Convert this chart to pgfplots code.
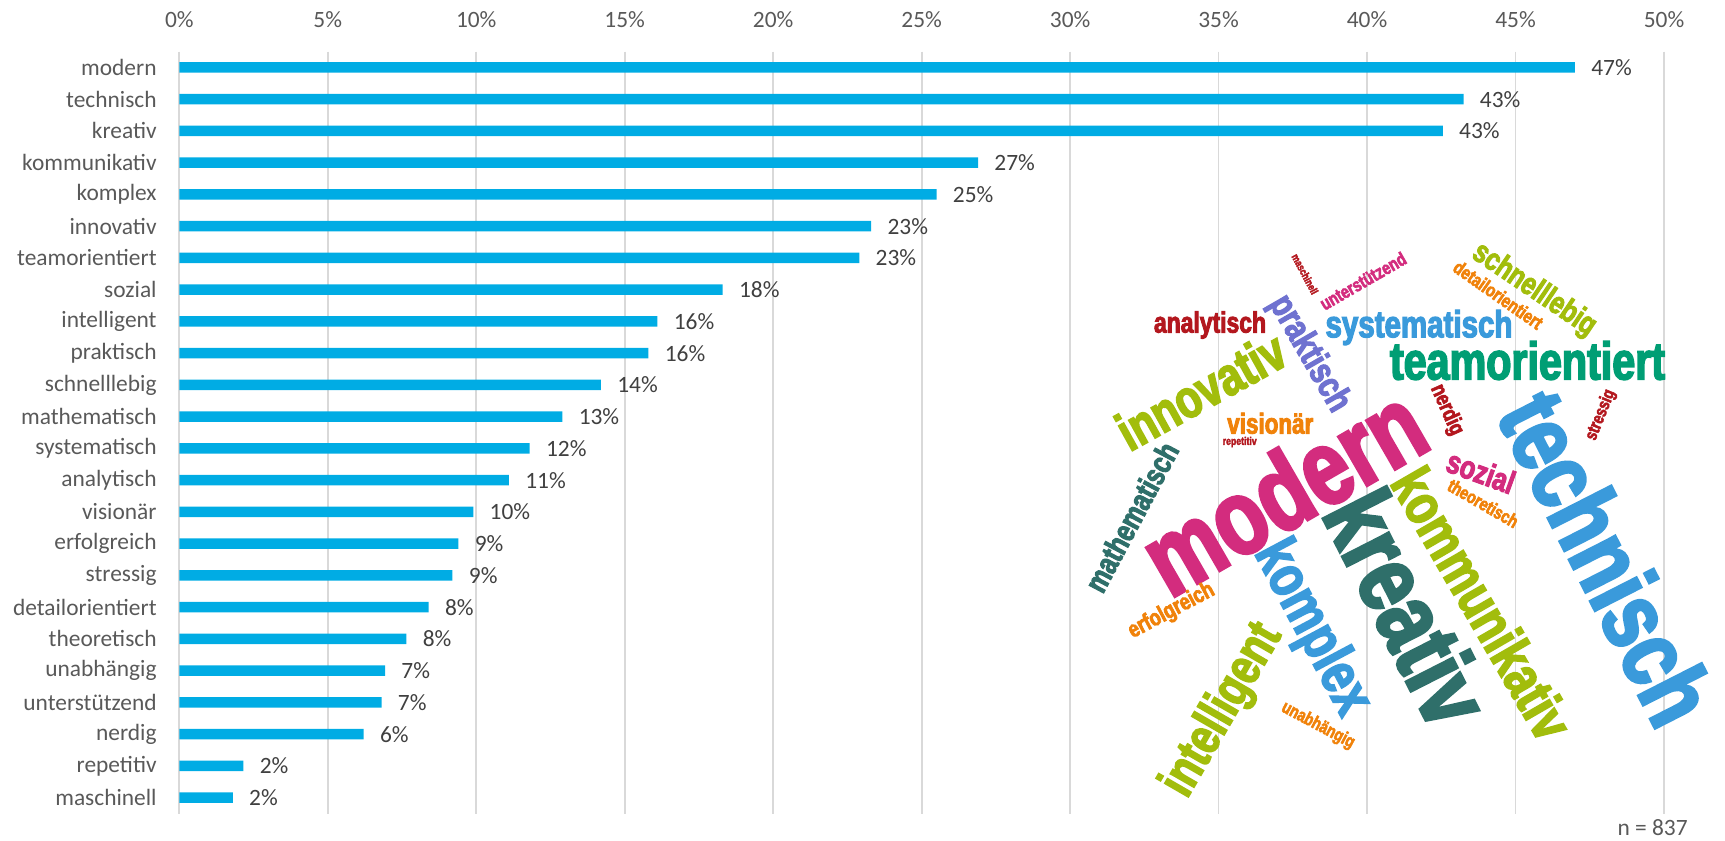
\documentclass[border=0pt]{standalone}
\usepackage{pgfplots}
\usepackage{pgfplotstable}
\pgfplotsset{compat=1.18}
\usepackage{fontspec}
\setmainfont{Carlito}
\newfontfamily\wc{Liberation Sans}[FakeStretch=0.78,FakeBold=3]
\definecolor{barblue}{HTML}{00ACE4}
\definecolor{gridc}{HTML}{D9D9D9}
\definecolor{labc}{HTML}{595959}
\definecolor{datc}{HTML}{404040}
\definecolor{wmag}{HTML}{D32C7E}
\definecolor{wblue}{HTML}{3A9ADB}
\definecolor{wteal}{HTML}{2F6F6A}
\definecolor{wgreen}{HTML}{A2BD0C}
\definecolor{wtg}{HTML}{009E74}
\definecolor{wpur}{HTML}{6F72D0}
\definecolor{wred}{HTML}{B3171E}
\definecolor{worg}{HTML}{F0820A}
\newcommand{\lf}{\fontsize{11.7}{14}\selectfont}
% word: x, y (px), angle, length (pt), colour, text
\newcommand{\cloudword}[6]{\node[rotate=#3,inner sep=0pt,text=#5] at (#1,#2) {\resizebox{#4pt}{!}{\wc\bfseries #6}};}
\pgfplotstableread{
y x lab
0 47.0 47
1 43.25 43
2 42.55 43
3 26.9 27
4 25.5 25
5 23.3 23
6 22.9 23
7 18.3 18
8 16.1 16
9 15.8 16
10 14.2 14
11 12.9 13
12 11.8 12
13 11.1 11
14 9.9 10
15 9.4 9
16 9.2 9
17 8.4 8
18 7.65 8
19 6.93 7
20 6.81 7
21 6.21 6
22 2.16 2
23 1.80 2
}\data
\begin{document}
\begin{tikzpicture}
\path[use as bounding box] (0,0) rectangle (862.5pt,-420.5pt);
\begin{axis}[
  at={(89.65pt,-25.75pt)}, anchor=north west,
  width=742.35pt, height=381pt, scale only axis,
  xbar, bar width=5.35pt,
  xmin=0, xmax=50, ymin=-0.5, ymax=23.5, y dir=reverse,
  axis line style={draw=none},
  major tick length=0pt,
  xtick={0,5,...,50},
  xticklabels={0\%,5\%,10\%,15\%,20\%,25\%,30\%,35\%,40\%,45\%,50\%},
  xticklabel pos=upper,
  xticklabel style={font=\lf, text=labc, inner sep=0pt, anchor=south, yshift=11.7pt},
  ytick={0,...,23},
  yticklabels={modern,technisch,kreativ,kommunikativ,komplex,innovativ,teamorientiert,sozial,intelligent,praktisch,schnelllebig,mathematisch,systematisch,analytisch,visionär,erfolgreich,stressig,detailorientiert,theoretisch,unabhängig,unterstützend,nerdig,repetitiv,maschinell},
  yticklabel style={font=\lf, text=labc, inner sep=0pt, anchor=east, xshift=-11.15pt},
  xmajorgrids, grid style={draw=gridc, line width=0.85pt},
  point meta=explicit symbolic,
  nodes near coords={\pgfplotspointmeta\%},
  nodes near coords style={font=\lf, text=datc, anchor=west, inner sep=0pt, xshift=8pt},
  clip=false,
]
\addplot[fill=barblue, draw=none] table[x=x, y=y, meta=lab] {\data};
\end{axis}
\begin{scope}[x=0.5pt, y=-0.5pt]
\cloudword{1283}{490}{30}{152.5}{wmag}{modern}
\cloudword{1607.5}{558}{-63}{178}{wblue}{technisch}
\cloudword{1408}{608}{-63}{123.5}{wteal}{kreativ}
\cloudword{1482.5}{603.5}{-60}{151}{wgreen}{kommunikativ}
\cloudword{1311.5}{628.5}{-62}{94}{wblue}{komplex}
\cloudword{1201}{390.7}{29}{92}{wgreen}{innovativ}
\cloudword{1527.5}{360.5}{0}{137.5}{wtg}{teamorientiert}
\cloudword{1481}{471.7}{-20}{35}{wmag}{sozial}
\cloudword{1223}{710.5}{60}{95}{wgreen}{intelligent}
\cloudword{1309}{354}{-60}{64}{wpur}{praktisch}
\cloudword{1534}{290}{-34}{71}{wgreen}{schnelllebig}
\cloudword{1131.5}{517}{62}{82}{wteal}{mathematisch}
\cloudword{1419}{327.5}{0}{93.5}{wblue}{systematisch}
\cloudword{1210}{325}{0}{56}{wred}{analytisch}
\cloudword{1270.3}{423.3}{0}{43}{worg}{visionär}
\cloudword{1171.5}{611}{28}{47}{worg}{erfolgreich}
\cloudword{1600.8}{415}{68}{26.5}{wred}{stressig}
\cloudword{1498.3}{294.8}{-35}{52}{worg}{detailorientiert}
\cloudword{1483.3}{503.3}{-30}{39}{worg}{theoretisch}
\cloudword{1318}{725.5}{-28}{40}{worg}{unabhängig}
\cloudword{1363}{281}{30}{48}{wmag}{unterstützend}
\cloudword{1446.7}{410}{-66}{26.5}{wred}{nerdig}
\cloudword{1239.7}{442}{0}{17}{wred}{repetitiv}
\cloudword{1305}{274}{-62}{22}{wred}{maschinell}
\node[anchor=east, inner sep=0pt, font=\lf, text=labc] at (1688,828) {n = 837};
\end{scope}
\end{tikzpicture}
\end{document}
